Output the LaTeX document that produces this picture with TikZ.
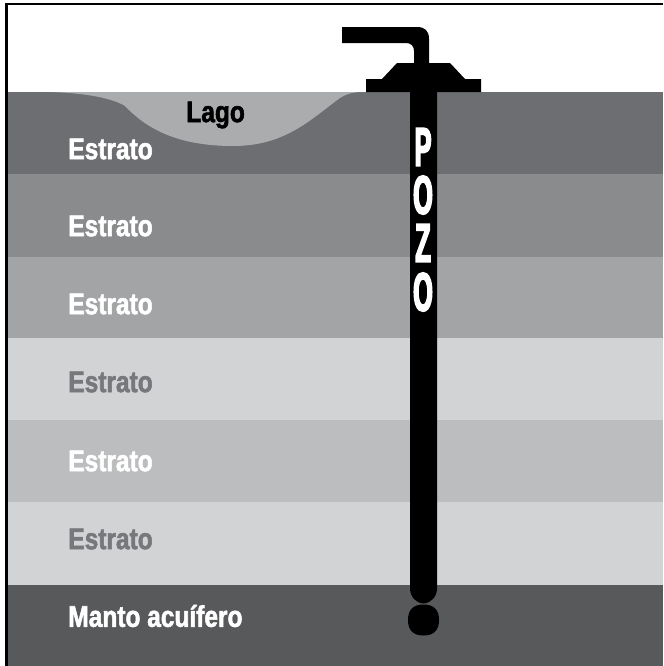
\documentclass[tikz,border=0pt]{standalone}
\usepackage{fontspec}
\setmainfont{Liberation Sans}[BoldFont={Liberation Sans Bold},BoldFeatures={FakeStretch=0.82,FakeBold=1.8}]
\newfontfamily\pozofont{Liberation Sans Bold}[FakeStretch=0.46,FakeBold=3]
\definecolor{strataA}{HTML}{6D6E71}
\definecolor{strataB}{HTML}{8A8B8D}
\definecolor{strataC}{HTML}{A3A4A6}
\definecolor{strataD}{HTML}{D1D3D4}
\definecolor{strataE}{HTML}{BBBDBF}
\definecolor{aquifer}{HTML}{58595B}
\definecolor{lake}{HTML}{ABACAE}
\definecolor{greytext}{HTML}{77787B}
\tikzset{
	estrato/.style={anchor=west, inner sep=0pt, font=\bfseries\fontsize{17}{17}\selectfont, text=white},
	pozoletter/.style={inner sep=0pt, font=\pozofont\fontsize{31}{31}\selectfont, text=white}
}

\begin{document}
\begin{tikzpicture}[x=0.02cm, y=-0.02cm]
			%%%%% START %%%%%
			\useasboundingbox (0, 0) rectangle (663, 666);
			\fill[white] (0, 0) rectangle (663, 666);
			
			% layers
			\fill[strataA] (8, 92) rectangle (663, 174);
			\fill[strataB] (8, 174) rectangle (663, 257);
			\fill[strataC] (8, 257) rectangle (663, 338);
			\fill[strataD] (8, 338) rectangle (663, 420);
			\fill[strataE] (8, 420) rectangle (663, 502);
			\fill[strataD] (8, 502) rectangle (663, 585);
			\fill[aquifer] (8, 585) rectangle (663, 666);
			
			% lake
			\fill[lake] (50, 92) .. controls (85, 93) and (112, 98) .. (125, 106)
				.. controls (145, 127) and (175, 146) .. (233, 146)
				.. controls (285, 146) and (310, 120) .. (340, 98)
				.. controls (348, 93) and (354, 92) .. (366, 92) -- cycle;
			
			% frame
			\draw[line width = 1.7pt] (6.5, 666) -- (6.5, 4) -- (663, 4);
			
			% pipe and flange
			\fill[black] (342, 27) -- (417, 27) .. controls (425, 27) and (429, 31) .. (429, 39)
				-- (429, 63) -- (450, 63) -- (465, 79)
				-- (481, 79) -- (481, 92) -- (366, 92) -- (366, 79) -- (382, 79) -- (397, 63)
				-- (414, 63) -- (414, 51) .. controls (414, 46) and (411, 43) .. (406, 43) -- (342, 43) -- cycle;
			
			% shaft and bottom plug
			\fill[black] (410, 90) -- (437, 90) -- (437, 588) .. controls (437, 597) and (431, 603) .. (423.5, 603.5)
				.. controls (416, 603) and (410, 597) .. (410, 588) -- cycle;
			\fill[black] (423.5, 604.5) .. controls (434, 604.5) and (439, 610) .. (439, 620)
				.. controls (439, 630) and (434, 635.5) .. (423.5, 635.5)
				.. controls (413, 635.5) and (408, 630) .. (408, 620)
				.. controls (408, 610) and (413, 604.5) .. (423.5, 604.5) -- cycle;
			
			\foreach \ypos/\letter/\nm in {147/P/pA, 195/O/pB, 243/Z/pC, 292/O/pD}
				\node[pozoletter] (\nm) at (423, \ypos) {\letter};
			
			\node[estrato, text=black] (lago) at (186, 115) {Lago};
			\node[estrato] (estratoA) at (68, 149) {Estrato};
			\node[estrato] (estratoB) at (68, 226) {Estrato};
			\node[estrato] (estratoC) at (68, 304) {Estrato};
			\node[estrato, text=greytext] (estratoD) at (68, 382) {Estrato};
			\node[estrato] (estratoE) at (68, 461) {Estrato};
			\node[estrato, text=greytext] (estratoF) at (68, 539) {Estrato};
			\node[estrato] (manto) at (68, 616) {Manto acuífero};
			%%%%% END %%%%%
		\end{tikzpicture}
\end{document}
